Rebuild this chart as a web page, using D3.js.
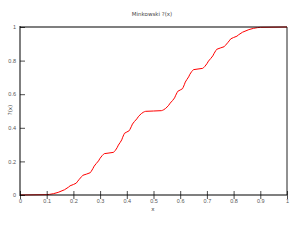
<!DOCTYPE html>
<html>
<head>
<meta charset="utf-8">
<script src="https://cdn.jsdelivr.net/npm/d3@7"></script>
<style>
  body { margin: 0; background: #fff; }
  svg { display: block; font-family: "DejaVu Sans", sans-serif; }
</style>
</head>
<body>
<div id="chart"></div>
<script>
// points
const xValues = [
  0.0000, 0.1000, 0.1111, 0.1250, 0.1429, 0.1667, 0.1818, 0.1875, 0.2000, 0.2105,
  0.2143, 0.2222, 0.2308, 0.2353, 0.2500, 0.2632, 0.2667, 0.2727, 0.2778, 0.2857,
  0.2941, 0.3000, 0.3077, 0.3125, 0.3158, 0.3333, 0.3500, 0.3529, 0.3571, 0.3636,
  0.3684, 0.3750, 0.3810, 0.3846, 0.3889, 0.3913, 0.4000, 0.4091, 0.4118, 0.4167,
  0.4211, 0.4286, 0.4375, 0.4444, 0.4545, 0.4615, 0.4667, 0.4706, 0.5000,
  0.5294, 0.5333, 0.5385, 0.5455, 0.5556, 0.5625, 0.5714, 0.5789, 0.5833, 0.5882,
  0.5909, 0.6000, 0.6087, 0.6111, 0.6154, 0.6190, 0.6250, 0.6316, 0.6364, 0.6429,
  0.6471, 0.6500, 0.6667, 0.6842, 0.6875, 0.6923, 0.7000, 0.7059, 0.7143, 0.7222,
  0.7273, 0.7333, 0.7368, 0.7500, 0.7647, 0.7692, 0.7778, 0.7857, 0.7895, 0.8000,
  0.8125, 0.8182, 0.8333, 0.8571, 0.8750, 0.8889, 0.9000, 1.0000
];
const yValues = [
  0.0000, 0.0020, 0.0039, 0.0078, 0.0156, 0.0313, 0.0469, 0.0547, 0.0625, 0.0703,
  0.0781, 0.0938, 0.1094, 0.1172, 0.1250, 0.1328, 0.1406, 0.1563, 0.1719, 0.1875,
  0.2031, 0.2188, 0.2344, 0.2422, 0.2461, 0.2500, 0.2539, 0.2578, 0.2656, 0.2813,
  0.2969, 0.3125, 0.3281, 0.3438, 0.3594, 0.3672, 0.3750, 0.3828, 0.3906, 0.4063,
  0.4219, 0.4375, 0.4531, 0.4688, 0.4844, 0.4922, 0.4961, 0.4980, 0.5000,
  0.5020, 0.5039, 0.5078, 0.5156, 0.5313, 0.5469, 0.5625, 0.5781, 0.5938, 0.6094,
  0.6172, 0.6250, 0.6328, 0.6406, 0.6563, 0.6719, 0.6875, 0.7031, 0.7188, 0.7344,
  0.7422, 0.7461, 0.7500, 0.7539, 0.7578, 0.7656, 0.7813, 0.7969, 0.8125, 0.8281,
  0.8438, 0.8594, 0.8672, 0.8750, 0.8828, 0.8906, 0.9063, 0.9219, 0.9297, 0.9375,
  0.9453, 0.9531, 0.9688, 0.9844, 0.9922, 0.9961, 0.9980, 1.0000
];
const xTicks = [0, 0.1, 0.2, 0.3, 0.4, 0.5, 0.6, 0.7, 0.8, 0.9, 1];
const yTicks = [0, 0.2, 0.4, 0.6, 0.8, 1];

const width = 300, height = 240;
const margin = {top: 27, right: 13, bottom: 45, left: 20};

const svg = d3.select("#chart").append("svg")
    .attr("width", width)
    .attr("height", height);

const x = d3.scaleLinear().domain([0, 1]).range([margin.left, width - margin.right]);
const y = d3.scaleLinear().domain([0, 1]).range([height - margin.bottom, margin.top]);

const points = xValues.map((v, i) => [v, yValues[i]]);

// title
svg.append("text")
    .attr("x", 152).attr("y", 16)
    .attr("text-anchor", "middle")
    .attr("font-size", 5.5)
    .attr("fill", "#444")
    .text("Minkowski ?(x)");

// right frame edge
svg.append("line")
    .attr("x1", x(1)).attr("x2", x(1))
    .attr("y1", y(1)).attr("y2", y(0))
    .attr("stroke", "#222").attr("stroke-width", 1);

// the curve
const line = d3.line().x(d => x(d[0])).y(d => y(d[1]));
svg.append("path")
    .datum(points)
    .attr("d", line)
    .attr("fill", "none")
    .attr("stroke", "red")
    .attr("stroke-width", 1);

// x axis
const xAxis = svg.append("g")
    .attr("transform", `translate(0,${y(0)})`)
    .call(d3.axisBottom(x).tickValues(xTicks).tickFormat(d3.format("~g")).tickSize(4).tickSizeOuter(0));
xAxis.select(".domain").remove();
xAxis.selectAll(".tick line").attr("y1", -4).attr("stroke", "#000").attr("stroke-opacity", 0.7);
xAxis.selectAll(".tick text").attr("font-size", 5.5).attr("fill", "#555").attr("dy", "0.45em")
    .attr("y", 6);

// y axis
const yAxis = svg.append("g")
    .attr("transform", `translate(${x(0)},0)`)
    .call(d3.axisLeft(y).tickValues(yTicks).tickFormat(d3.format("~g")).tickSize(0).tickSizeOuter(0));
yAxis.select(".domain").remove();
yAxis.selectAll(".tick line").attr("x2", 5).attr("stroke", "#000").attr("stroke-opacity", 0.7);
yAxis.selectAll(".tick text").attr("font-size", 5.5).attr("fill", "#555").attr("x", -4);

// frame: left, bottom, top in translucent black
const frame = svg.append("g")
    .attr("stroke", "#000").attr("stroke-opacity", 0.5).attr("stroke-width", 2);
frame.append("line").attr("x1", x(0)).attr("x2", x(0)).attr("y1", y(1) - 1).attr("y2", y(0) + 1);
frame.append("line").attr("x1", x(0)).attr("x2", x(1)).attr("y1", y(0)).attr("y2", y(0));
frame.append("line").attr("x1", x(0)).attr("x2", x(1)).attr("y1", y(1)).attr("y2", y(1));

// axis titles
svg.append("text")
    .attr("x", 153).attr("y", 211)
    .attr("text-anchor", "middle")
    .attr("font-size", 5.5)
    .attr("fill", "#444")
    .text("x");

svg.append("text")
    .attr("transform", `translate(12,110) rotate(-90)`)
    .attr("text-anchor", "middle")
    .attr("font-size", 5.5)
    .attr("fill", "#444")
    .text("?(x)");
</script>
</body>
</html>
